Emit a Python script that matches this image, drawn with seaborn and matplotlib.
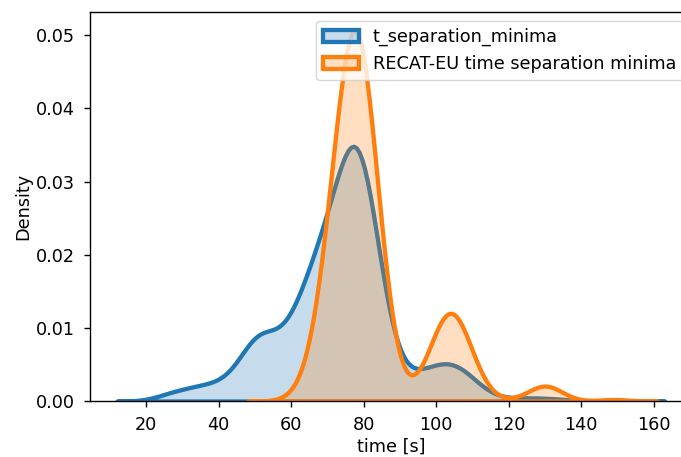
import numpy as np
import pandas as pd
import matplotlib
matplotlib.use("Agg")
import matplotlib.pyplot as plt
import seaborn as sns

# Observed time separations [s] and how often each one occurs
sep_time = [24, 26, 28, 30, 32, 34, 36, 38, 40, 42, 44, 46, 48, 50, 52, 54, 56, 58,
            60, 62, 64, 66, 68, 70, 72, 74, 76, 78, 80, 82, 84, 86, 88, 90, 92, 94,
            96, 98, 100, 102, 104, 106, 108, 110, 112, 114, 116, 118, 120, 122, 124,
            126, 128, 130, 132, 134, 136, 138, 151]
sep_count = [20, 24, 30, 32, 38, 44, 48, 50, 52, 56, 72, 110, 165, 225, 230, 205, 160, 175,
             226, 280, 338, 410, 460, 512, 588, 670, 790, 910, 840, 600, 424, 250, 110, 80, 70, 75,
             85, 95, 108, 116, 120, 112, 95, 68, 38, 24, 12, 8, 6, 8, 10,
             10, 10, 8, 8, 6, 4, 1, 2]

# RECAT-EU time separation minima [s] for the same aircraft pairs
recat_time = [60, 62, 64, 66, 68, 70, 72, 74, 76, 78, 80, 82, 84, 86, 88, 90, 92, 94,
              96, 98, 100, 102, 104, 106, 108, 110, 112, 114, 116, 120, 124, 126, 128,
              130, 132, 134, 136, 149]
recat_count = [7, 21, 53, 121, 244, 435, 687, 957, 1180, 1287, 1193, 871, 498, 224, 79, 22, 9, 16,
               48, 111, 204, 293, 331, 293, 204, 111, 48, 16, 4, 6, 4, 21, 55,
               76, 55, 21, 4, 20]

series_names = ["t_separation_minima", "RECAT-EU time separation minima"]
series_colors = ["#1f77b4", "#ff7f0e"]

# one row per observation
sep = pd.DataFrame({"time": np.repeat(sep_time, sep_count)})
recat = pd.DataFrame({"time": np.repeat(recat_time, recat_count)})

KERNEL_BW = 4.0  # kernel bandwidth in seconds


def bw_factor(df):
    # gaussian_kde scales the sample standard deviation by this factor
    return KERNEL_BW / df["time"].std()


plt.rcParams.update({
    "font.family": "DejaVu Sans",
    "font.size": 12.7,
    "axes.linewidth": 1.0,
    "axes.labelpad": 2.5,
    "xtick.major.size": 4.1,
    "ytick.major.size": 4.1,
    "xtick.major.width": 1.0,
    "ytick.major.width": 1.0,
    "xtick.major.pad": 7.0,
    "ytick.major.pad": 6.3,
})

fig = plt.figure(figsize=(6.81, 4.57), dpi=100)
ax = fig.add_axes([0.1316, 0.1225, 0.8846, 0.8512])

for df, name, color in zip([sep, recat], series_names, series_colors):
    sns.kdeplot(data=df, x="time", bw_method=bw_factor(df),
                fill=True, linewidth=3.1, color=color, label=name, ax=ax)

ax.set_xlabel("time [s]")
ax.set_ylabel("Density")
ax.legend(loc="upper right")

fig.savefig("out.png", dpi=100)
